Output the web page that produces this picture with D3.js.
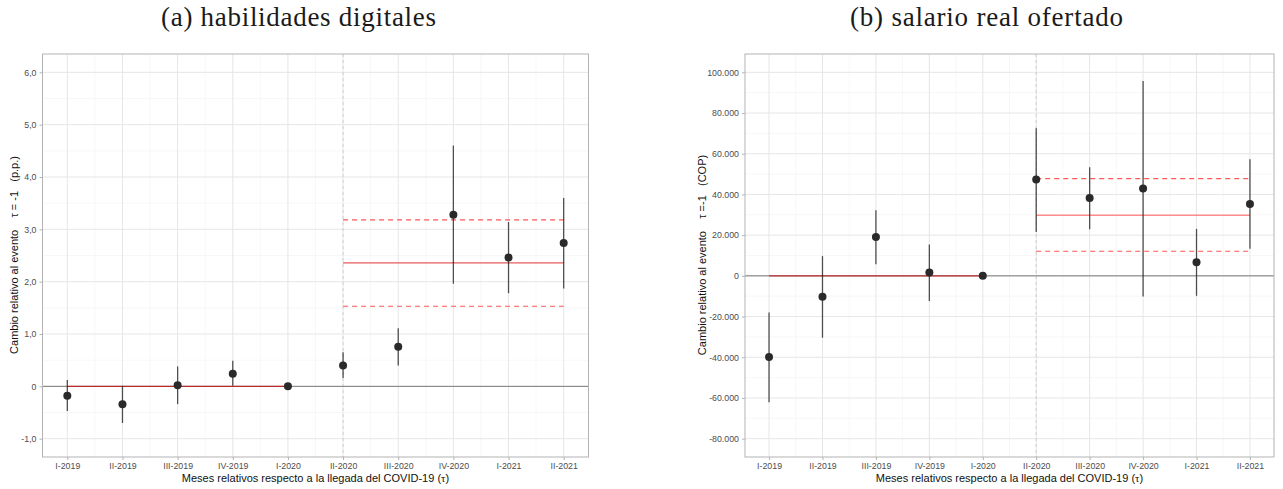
<!DOCTYPE html>
<html>
<head>
<meta charset="utf-8">
<script src="https://cdn.jsdelivr.net/npm/d3@7"></script>
<style>
  body { margin: 0; background: #fff; }
  svg text { font-family: "Liberation Sans", Arial, sans-serif; }
</style>
</head>
<body>
<svg id="chart" width="1283" height="489"></svg>
<script>
// quarters relative to COVID-19 arrival (tau = -5 .. 4)
const periods = ['I-2019', 'II-2019', 'III-2019', 'IV-2019', 'I-2020', 'II-2020', 'III-2020', 'IV-2020', 'I-2021', 'II-2021']
const tau = [-5, -4, -3, -2, -1, 0, 1, 2, 3, 4]

// (a) habilidades digitales, p.p.
const skillEst = [-0.18, -0.34, 0.02, 0.24, 0, 0.40, 0.755, 3.28, 2.46, 2.74]
const skillLow = [-0.47, -0.70, -0.34, 0.01, null, 0.16, 0.40, 1.96, 1.78, 1.87]
const skillHigh = [0.12, 0.01, 0.38, 0.49, null, 0.65, 1.11, 4.60, 3.14, 3.60]
const skillAvg = [2.36, 1.53, 3.18]   // mean, lower, upper of post period
const skillTicks = [-1, 0, 1, 2, 3, 4, 5, 6]

// (b) salario real ofertado, COP
const wageEst = [-39900, -10300, 19100, 1600, 0, 47300, 38300, 42900, 6700, 35300]
const wageLow = [-62100, -30400, 5700, -12300, null, 21600, 22900, -10100, -9800, 13300]
const wageHigh = [-18000, 9700, 32200, 15400, null, 72500, 53300, 95700, 23100, 57300]
const wageAvg = [29800, 12100, 47800]
const wageTicks = [-80000, -60000, -40000, -20000, 0, 20000, 40000, 60000, 80000, 100000]

const loc = d3.formatLocale({decimal: ',', thousands: '.', grouping: [3], currency: ['', ''], minus: '-'})
const svg = d3.select('#chart')

const drawPanel = (p) => {
    const g = svg.append('g')

    const x = d3.scaleLinear().domain([-5.45, 4.45]).range([p.left, p.right])
    const span = p.yDomain[1] - p.yDomain[0]
    const y = d3.scaleLinear()
        .domain([p.yDomain[0] - span * 0.05, p.yDomain[1] + span * 0.05])
        .range([457, 54])

    // minor grid
    const minorY = d3.range(p.yDomain[0] - p.step / 2, p.yDomain[1] + p.step, p.step)
        .filter(v => y(v) > 54 && y(v) < 457)
    g.selectAll('.gminy').data(minorY).enter().append('line')
        .attr('x1', p.left).attr('x2', p.right)
        .attr('y1', d => y(d)).attr('y2', d => y(d))
        .attr('stroke', '#f2f2f2').attr('stroke-width', 0.6)
    g.selectAll('.gminx').data(d3.range(-5.5, 5, 1).filter(v => x(v) > p.left && x(v) < p.right)).enter().append('line')
        .attr('x1', d => x(d)).attr('x2', d => x(d))
        .attr('y1', 54).attr('y2', 457)
        .attr('stroke', '#f2f2f2').attr('stroke-width', 0.6)

    // major grid
    g.selectAll('.gy').data(p.ticks).enter().append('line')
        .attr('x1', p.left).attr('x2', p.right)
        .attr('y1', d => y(d)).attr('y2', d => y(d))
        .attr('stroke', '#e6e6e6').attr('stroke-width', 1)
    g.selectAll('.gx').data(tau).enter().append('line')
        .attr('x1', d => x(d)).attr('x2', d => x(d))
        .attr('y1', 54).attr('y2', 457)
        .attr('stroke', '#e6e6e6').attr('stroke-width', 1)

    // event line
    g.append('line')
        .attr('x1', x(0)).attr('x2', x(0)).attr('y1', 54).attr('y2', 457)
        .attr('stroke', '#c8c8c8').attr('stroke-width', 0.8).attr('stroke-dasharray', '3,3')

    // zero line
    g.append('line')
        .attr('x1', p.left).attr('x2', p.right).attr('y1', y(0)).attr('y2', y(0))
        .attr('stroke', '#7a7a7a').attr('stroke-width', 1)

    // pre-period reference
    g.append('line')
        .attr('x1', x(-5)).attr('x2', x(-1)).attr('y1', y(0)).attr('y2', y(0))
        .attr('stroke', '#cc0000').attr('stroke-opacity', 0.7).attr('stroke-width', 1.2)

    // post-period mean and interval
    g.append('line')
        .attr('x1', x(0)).attr('x2', x(4)).attr('y1', y(p.avg[0])).attr('y2', y(p.avg[0]))
        .attr('stroke', p.meanColor).attr('stroke-width', p.meanWidth)
    g.selectAll('.ci').data(p.avg.slice(1)).enter().append('line')
        .attr('x1', x(0)).attr('x2', x(4))
        .attr('y1', d => y(d)).attr('y2', d => y(d))
        .attr('stroke', '#ff5555').attr('stroke-width', 1.2).attr('stroke-dasharray', '5,4')

    // error bars
    const rows = tau.map((t, i) => ({t: t, est: p.est[i], low: p.low[i], high: p.high[i]}))
    g.selectAll('.err').data(rows.filter(d => d.low !== null)).enter().append('line')
        .attr('x1', d => x(d.t)).attr('x2', d => x(d.t))
        .attr('y1', d => y(d.low)).attr('y2', d => y(d.high))
        .attr('stroke', '#1a1a1a').attr('stroke-opacity', 0.75).attr('stroke-width', 1.3)

    g.selectAll('.pt').data(rows).enter().append('circle')
        .attr('cx', d => x(d.t)).attr('cy', d => y(d.est)).attr('r', 4)
        .attr('fill', '#2a2a2a')

    // panel border
    g.append('rect')
        .attr('x', p.left).attr('y', 54).attr('width', p.right - p.left).attr('height', 403)
        .attr('fill', 'none').attr('stroke', '#b3b3b3').attr('stroke-width', 1)

    // axes
    const yAxis = g.append('g').attr('transform', `translate(${p.left},0)`)
        .call(d3.axisLeft(y).tickValues(p.ticks).tickFormat(p.fmt).tickSize(3).tickPadding(3))
    const xAxis = g.append('g').attr('transform', 'translate(0,457)')
        .call(d3.axisBottom(x).tickValues(tau).tickFormat((d, i) => periods[i]).tickSize(3).tickPadding(3))
    for (const ax of [yAxis, xAxis]) {
        ax.select('.domain').remove()
        ax.selectAll('.tick line').attr('stroke', '#b3b3b3')
        ax.selectAll('.tick text').attr('fill', '#4d4d4d').style('font-size', '8.8px')
            .style('font-family', '"Liberation Sans", Arial, sans-serif')
    }

    // titles
    const mid = (p.left + p.right) / 2
    g.append('text')
        .attr('x', p.titleX).attr('y', 26).attr('text-anchor', 'middle')
        .style('font-family', '"Liberation Serif", "DejaVu Serif", serif').style('font-size', '27px')
        .attr('fill', '#1a1a1a')
        .attr('textLength', p.titleW).attr('lengthAdjust', 'spacing')
        .text(p.title)

    const xt = g.append('text')
        .attr('x', mid).attr('y', 482).attr('text-anchor', 'middle')
        .style('font-size', '11px').attr('fill', '#111')
    xt.append('tspan').text('Meses relativos respecto a la llegada del COVID-19 (')
    xt.append('tspan').style('font-family', '"Liberation Serif", serif').text('τ')
    xt.append('tspan').text(')')

    g.append('text')
        .attr('transform', `translate(${p.ytX},255) rotate(-90)`)
        .attr('text-anchor', 'middle')
        .style('font-size', '11px').attr('fill', '#111')
        .attr('xml:space', 'preserve')
        .text(p.yTitle)
}

drawPanel({
    left: 42.5, right: 588.5, yDomain: [-1, 6], step: 1, ticks: skillTicks,
    est: skillEst, low: skillLow, high: skillHigh, avg: skillAvg,
    meanColor: '#e85a5a', meanWidth: 1.2,
    fmt: d => d === 0 ? '0' : loc.format('.1f')(d),
    title: '(a) habilidades digitales', titleX: 298.5, titleW: 275,
    yTitle: 'Cambio relativo al evento    τ = -1   (p.p.)',
    ytX: 18
})

drawPanel({
    left: 745, right: 1274, yDomain: [-80000, 100000], step: 20000, ticks: wageTicks,
    est: wageEst, low: wageLow, high: wageHigh, avg: wageAvg,
    meanColor: '#ff8c8c', meanWidth: 1.6,
    fmt: d => loc.format(',.0f')(d),
    title: '(b) salario real ofertado', titleX: 986.5, titleW: 273,
    yTitle: 'Cambio relativo al evento    τ =-1   (COP)',
    ytX: 706
})
</script>
</body>
</html>
